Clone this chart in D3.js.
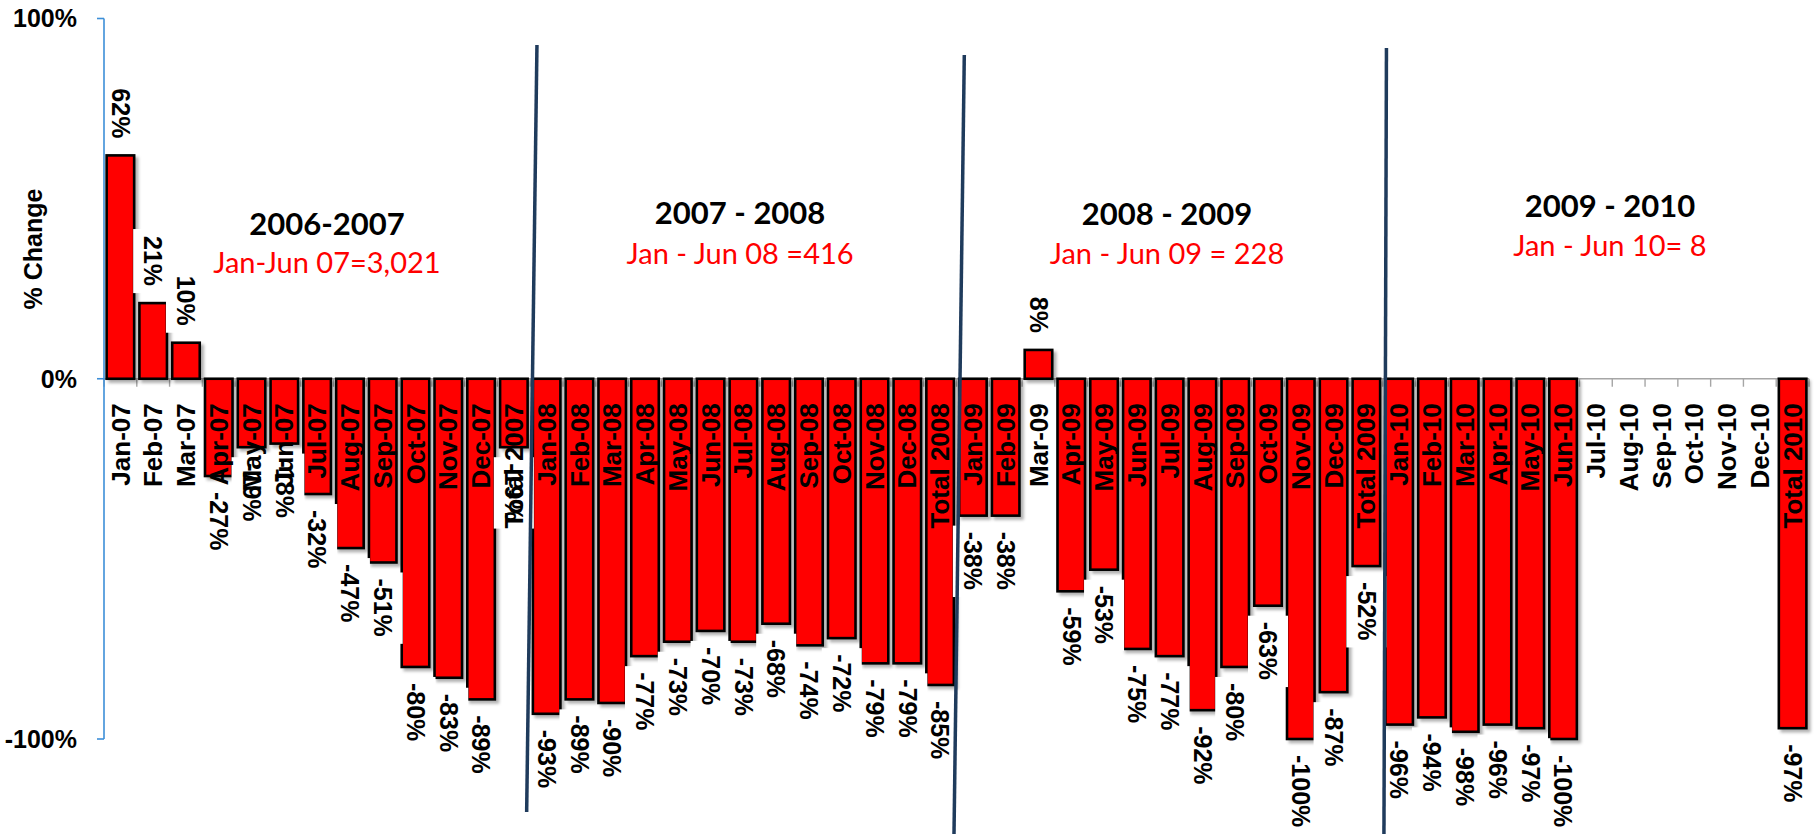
<!DOCTYPE html>
<html><head><meta charset="utf-8">
<script src="https://cdn.jsdelivr.net/npm/d3@7"></script>
<style>body{margin:0;background:#fff}svg{display:block}</style>
</head><body>
<svg id="chart" width="1818" height="834"></svg>
<script>
// ---------- data ----------
const categories = [
  "Jan-07","Feb-07","Mar-07","Apr-07","May-07","Jun-07","Jul-07","Aug-07","Sep-07","Oct-07","Nov-07","Dec-07","Total 2007",
  "Jan-08","Feb-08","Mar-08","Apr-08","May-08","Jun-08","Jul-08","Aug-08","Sep-08","Oct-08","Nov-08","Dec-08","Total 2008",
  "Jan-09","Feb-09","Mar-09","Apr-09","May-09","Jun-09","Jul-09","Aug-09","Sep-09","Oct-09","Nov-09","Dec-09","Total 2009",
  "Jan-10","Feb-10","Mar-10","Apr-10","May-10","Jun-10","Jul-10","Aug-10","Sep-10","Oct-10","Nov-10","Dec-10","Total 2010"
];
const values2007 = [62, 21, 10, -27, -19, -18, -32, -47, -51, -80, -83, -89, -19];
const values2008 = [-93, -89, -90, -77, -73, -70, -73, -68, -74, -72, -79, -79, -85];
const values2009 = [-38, -38, 8, -59, -53, -75, -77, -92, -80, -63, -100, -87, -52];
const values2010 = [-96, -94, -98, -96, -97, -100, null, null, null, null, null, null, -97];
const values = [].concat(values2007, values2008, values2009, values2010);
const yTickValues = [100, 0, -100];
const yAxisTitle = "% Change";
const groupTitles = ["2006-2007", "2007 - 2008", "2008 - 2009", "2009 - 2010"];
const groupSubtitles = ["Jan-Jun 07=3,021", "Jan - Jun 08 =416", "Jan - Jun 09 = 228", "Jan - Jun 10= 8"];
const separatorAfter = ["Total 2007", "Total 2008", "Total 2009"];

// ---------- layout (positions / styles) ----------
const titleLayout = [
  {pos: 6.8,  base: 235, subBase: 273},
  {pos: 19.4, base: 224, subBase: 264},
  {pos: 32.42, base: 225, subBase: 264},
  {pos: 45.93, base: 216.5, subBase: 256}
];
const sepLayout = [
  {dxTop: 6.7, dxBot: -3.6, yTop: 45, yBot: 812},
  {dxTop: 7.8, dxBot: -2.5, yTop: 55, yBot: 834},
  {dxTop: 3.7, dxBot: 1.2, yTop: 48, yBot: 834}
];
const RED = "#ff0000";

const svg = d3.select("#chart");
const defs = svg.append("defs");
const f = defs.append("filter").attr("id","shadow").attr("x","-20%").attr("y","-20%").attr("width","150%").attr("height","150%");
f.append("feDropShadow").attr("dx",3).attr("dy",3).attr("stdDeviation",1.6)
  .attr("flood-color","#000").attr("flood-opacity",0.3);

const x = d3.scaleBand().domain(categories).range([104, 1809]).paddingInner(0.16).paddingOuter(0.08);
const y = d3.scaleLinear().domain([-100, 100]).range([739, 18.5]);
const step = x.step();
const x0 = x.range()[0];
const y0 = y(0);
const cx = c => x(c) + x.bandwidth()/2;
const data = categories.map((c, i) => ({c, v: values[i]}));
const pct = v => v + "%";

// x axis (zero line + ticks between categories)
const xAxisG = svg.append("g");
xAxisG.append("line").attr("x1", x0).attr("x2", x.range()[1]).attr("y1", y0).attr("y2", y0)
  .attr("stroke", "#a6a6a6").attr("stroke-width", 1.6);
xAxisG.selectAll("line.t").data(d3.range(categories.length + 1)).join("line").attr("class","t")
  .attr("x1", i => x0 + i*step).attr("x2", i => x0 + i*step)
  .attr("y1", y0).attr("y2", y0 + 8).attr("stroke", "#a6a6a6").attr("stroke-width", 1.4);

// bars
svg.append("g").selectAll("rect").data(data.filter(d => d.v != null)).join("rect")
  .attr("x", d => x(d.c)).attr("width", x.bandwidth())
  .attr("y", d => Math.min(y(d.v), y0)).attr("height", d => Math.abs(y(d.v) - y0))
  .attr("fill", RED).attr("stroke", "#000").attr("stroke-width", 2.6)
  .attr("filter", "url(#shadow)");

const boxG = svg.append("g");
const textG = svg.append("g");

// category labels (rotated, reading upward)
textG.selectAll("text.cat").data(data).join("text").attr("class","cat")
  .attr("transform", d => `translate(${cx(d.c)},${y0 + 24.5}) rotate(-90)`)
  .attr("text-anchor", "end").attr("dy", "0.35em")
  .attr("font-family", "'Liberation Sans', Arial, sans-serif").attr("font-weight", "bold")
  .attr("font-size", 26).attr("fill", "#000")
  .text(d => d.c);

// value labels (rotated, reading downward) with white boxes
const labelled = data.filter(d => d.v != null);
const vl = textG.selectAll("text.val").data(labelled).join("text").attr("class","val")
  .attr("transform", d => d.v < 0
      ? `translate(${cx(d.c)},${y(d.v) + 16}) rotate(90)`
      : `translate(${cx(d.c)},${y(d.v) - 17}) rotate(90)`)
  .attr("text-anchor", d => d.v < 0 ? "start" : "end").attr("dy", "0.35em")
  .attr("font-family", "'Liberation Sans', Arial, sans-serif").attr("font-weight", "bold")
  .attr("font-size", 25).attr("fill", "#000")
  .text(d => pct(d.v));
vl.each(function(d){
  const len = this.getComputedTextLength();
  let t, b;
  if (d.v < 0) { t = y(d.v) + 10; b = y(d.v) + 16 + len + 7; }
  else { t = y(d.v) - 17 - len - 7; b = y(d.v) - 10; }
  boxG.append("rect").attr("x", cx(d.c) - 20).attr("width", 40)
    .attr("y", t).attr("height", b - t).attr("fill", "#fff");
});

// y axis
const yAxisG = svg.append("g");
yAxisG.append("line").attr("x1", x0).attr("x2", x0).attr("y1", y(-100)).attr("y2", y(100))
  .attr("stroke", "#3d8fd8").attr("stroke-width", 1.6);
yAxisG.selectAll("line.t").data(yTickValues).join("line").attr("class","t")
  .attr("x1", x0 - 7).attr("x2", x0).attr("y1", d => y(d)).attr("y2", d => y(d))
  .attr("stroke", "#3d8fd8").attr("stroke-width", 1.6);
yAxisG.selectAll("text").data(yTickValues).join("text")
  .attr("x", 77).attr("y", d => y(d)).attr("dy", "0.35em").attr("text-anchor", "end")
  .attr("font-family", "'Liberation Sans', Arial, sans-serif").attr("font-weight", "bold")
  .attr("font-size", 25).attr("fill", "#000").text(d => pct(d));
svg.append("text").attr("transform", "translate(33,249) rotate(-90)")
  .attr("text-anchor", "middle").attr("dy", "0.35em")
  .attr("font-family", "'Liberation Sans', Arial, sans-serif").attr("font-weight", "bold")
  .attr("font-size", 25).attr("fill", "#000")
  .text(yAxisTitle);

// group titles
groupTitles.forEach((t, i) => {
  const L = titleLayout[i];
  svg.append("text").attr("x", x0 + L.pos*step).attr("y", L.base).attr("text-anchor", "middle")
    .attr("font-family", "Lato, 'Open Sans', sans-serif").attr("font-weight", "bold")
    .attr("font-size", 31).attr("fill", "#000").text(t);
  svg.append("text").attr("x", x0 + L.pos*step).attr("y", L.subBase).attr("text-anchor", "middle")
    .attr("font-family", "Lato, 'Open Sans', sans-serif")
    .attr("font-size", 29).attr("fill", RED).text(groupSubtitles[i]);
});

// separators
separatorAfter.forEach((c, i) => {
  const bx = x(c) + x.bandwidth() + step*x.paddingInner()/2;
  const L = sepLayout[i];
  svg.append("line").attr("x1", bx + L.dxTop).attr("y1", L.yTop).attr("x2", bx + L.dxBot).attr("y2", L.yBot)
    .attr("stroke", "#1f3b5c").attr("stroke-width", 3.5);
});
</script>
</body></html>
